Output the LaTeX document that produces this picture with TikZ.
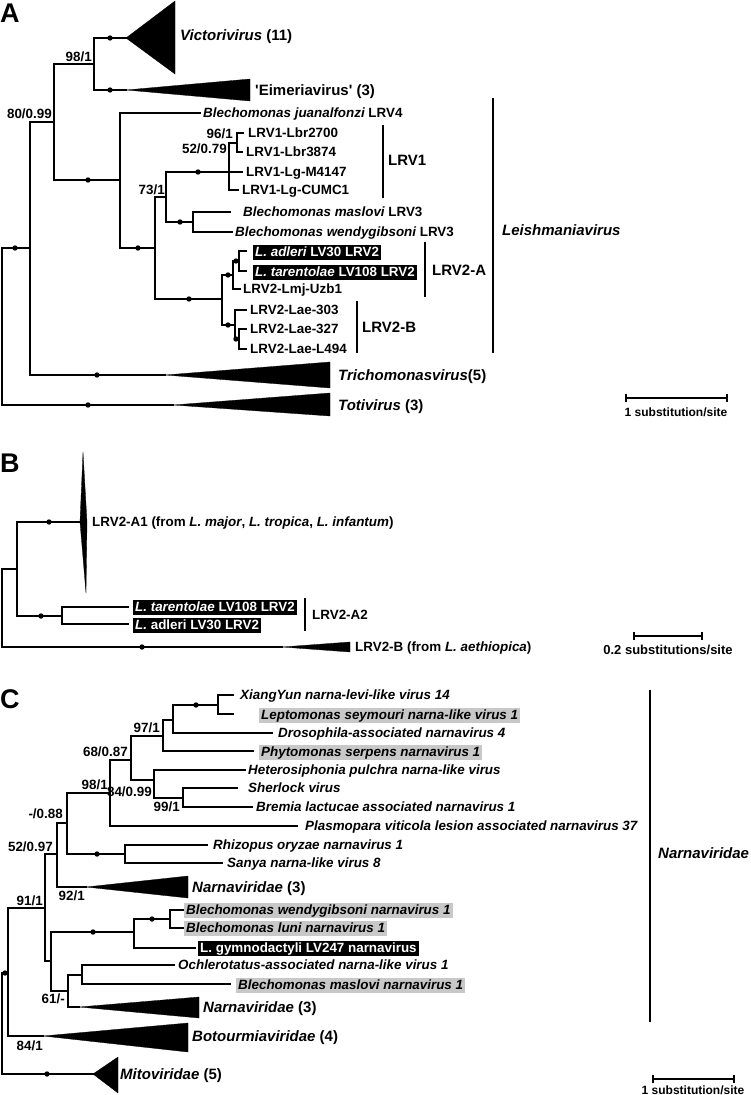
\documentclass[tikz,border=0pt]{standalone}
\usepackage{fontspec}
\setmainfont{Liberation Sans}
\definecolor{hl}{RGB}{200,200,200}
\begin{document}
\begin{tikzpicture}[x=1pt,y=-1pt,
  tbr/.style={line width=1.5pt, line cap=rect},
  ttri/.style={fill=black, draw=black, line width=0.3pt},
  tlab/.style={inner sep=0pt, anchor=west, text height=9.6pt, text depth=0pt, font=\fontsize{13.4}{15}\selectfont\bfseries},
  tilab/.style={tlab, font=\fontsize{13.4}{15}\selectfont\bfseries\itshape},
  tclab/.style={inner sep=0pt, anchor=west, text height=10.7pt, text depth=0pt, font=\fontsize{15}{17}\selectfont\bfseries},
  tbs/.style={tlab, anchor=east},
  tgbox/.style={fill=hl, inner xsep=2pt, inner ysep=1.2pt, anchor=west, text height=9.6pt, text depth=2.6pt, yshift=-1.5pt, font=\fontsize{13.4}{15}\selectfont\bfseries\itshape},
  tkbox/.style={fill=black, text=white, inner xsep=2pt, inner ysep=1.2pt, anchor=west, text height=9.6pt, text depth=2.6pt, yshift=-1.5pt, font=\fontsize{13.4}{15}\selectfont\bfseries},
  tpanel/.style={inner sep=0pt, anchor=base west, font=\fontsize{27}{28}\selectfont\bfseries},
  tsc/.style={inner sep=0pt, anchor=center, text height=8.6pt, text depth=0pt, font=\fontsize{12}{14}\selectfont\bfseries},
  tbrk/.style={line width=1.5pt},
]
\useasboundingbox (0,0) rectangle (750,1095);
\def\ndot(#1,#2){\fill (#1,#2) circle[radius=2.7pt];}

% ================= PANEL A =================
\node[tpanel] (pA) at (0,22) {A};
% branches
\draw[tbr] (94,38) -- (126,38);
\draw[tbr] (94,90) -- (126,90);
\draw[tbr] (94,38) -- (94,90);
\draw[tbr] (54,64) -- (94,64);
\draw[tbr] (54,64) -- (54,180);
\draw[tbr] (30,122) -- (54,122);
\draw[tbr] (54,180) -- (120,180);
\draw[tbr] (120,113) -- (120,248);
\draw[tbr] (120,113) -- (200,113);
\draw[tbr] (120,248) -- (155,248);
\draw[tbr] (155,197) -- (155,299);
\draw[tbr] (155,197) -- (166,197);
\draw[tbr] (166,172) -- (166,222);
\draw[tbr] (166,172) -- (229,172);
\draw[tbr] (229,143) -- (229,190);
\draw[tbr] (229,143) -- (237,143);
\draw[tbr] (237,133) -- (237,152);
\draw[tbr] (237,133) -- (243,133);
\draw[tbr] (237,152) -- (242,152);
\draw[tbr] (229,172) -- (242,172);
\draw[tbr] (229,190) -- (238,190);
\draw[tbr] (166,222) -- (193,222);
\draw[tbr] (193,212) -- (193,232);
\draw[tbr] (193,212) -- (230,212);
\draw[tbr] (193,232) -- (232,232);
\draw[tbr] (155,299) -- (222,299);
\draw[tbr] (222,275) -- (222,325);
\draw[tbr] (222,275) -- (233,275);
\draw[tbr] (233,261) -- (233,289);
\draw[tbr] (233,261) -- (239,261);
\draw[tbr] (239,251) -- (239,271);
\draw[tbr] (239,251) -- (246,251);
\draw[tbr] (239,271) -- (246,271);
\draw[tbr] (233,289) -- (240,289);
\draw[tbr] (222,325) -- (235,325);
\draw[tbr] (235,310) -- (235,339);
\draw[tbr] (235,310) -- (246,310);
\draw[tbr] (235,339) -- (239,339);
\draw[tbr] (239,329) -- (239,349);
\draw[tbr] (239,329) -- (246,329);
\draw[tbr] (239,349) -- (246,349);
\draw[tbr] (30,122) -- (30,375);
\draw[tbr] (30,375) -- (165,375);
\draw[tbr] (2,248) -- (30,248);
\draw[tbr] (2,248) -- (2,405);
\draw[tbr] (2,405) -- (173,405);
% collapsed clades
\fill[ttri] (126,38) -- (175,1) -- (175,74) -- cycle;
\fill[ttri] (126,90) -- (250,79) -- (250,101) -- cycle;
\fill[ttri] (165,375) -- (330,362) -- (330,388) -- cycle;
\fill[ttri] (173,405) -- (330,393) -- (330,416) -- cycle;
% dots
\ndot(110,38) \ndot(110,90) \ndot(88,180) \ndot(138,248) \ndot(198,172)
\ndot(180,222) \ndot(189,299) \ndot(228,275) \ndot(236,261) \ndot(228,325)
\ndot(236,339) \ndot(97,375) \ndot(15,248) \ndot(88,405)
% support values
\node[tbs] (a981) at (92,57) {98/1};
\node[tbs] (a8099) at (52,114) {80/0.99};
\node[tbs] (a731) at (165,190) {73/1};
\node[tbs] (a961) at (233,134) {96/1};
\node[tbs] (a5279) at (227,149) {52/0.79};
% leaf labels
\node[tclab] (vic) at (180,35) {\itshape Victorivirus\upshape\ (11)};
\node[tclab] (eim) at (255,90) {\textquotesingle Eimeriavirus\textquotesingle\ (3)};
\node[tlab] (juan) at (203,113) {\itshape Blechomonas juanalfonzi\upshape\ LRV4};
\node[tlab] (l1a) at (248,133) {LRV1-Lbr2700};
\node[tlab] (l1b) at (246,152) {LRV1-Lbr3874};
\node[tlab] (l1c) at (246,172) {LRV1-Lg-M4147};
\node[tlab] (l1d) at (242,190) {LRV1-Lg-CUMC1};
\node[tlab] (bmas) at (243,212) {\itshape Blechomonas maslovi\upshape\ LRV3};
\node[tlab] (bwen) at (235,232) {\itshape Blechomonas wendygibsoni\upshape\ LRV3};
\node[tkbox] (adl) at (253,251) {\itshape L. adleri\upshape\ LV30 LRV2};
\node[tkbox] (tar) at (253,271) {\itshape L. tarentolae\upshape\ LV108 LRV2};
\node[tlab] (lmj) at (243,289) {LRV2-Lmj-Uzb1};
\node[tlab] (lae1) at (250,310) {LRV2-Lae-303};
\node[tlab] (lae2) at (250,329) {LRV2-Lae-327};
\node[tlab] (lae3) at (250,349) {LRV2-Lae-L494};
\node[tclab] (tri) at (338,375) {\itshape Trichomonasvirus\upshape(5)};
\node[tclab] (tot) at (338,405) {\itshape Totivirus\upshape\ (3)};
% brackets
\draw[tbrk] (383,125) -- (383,198);
\node[tclab] (gl1) at (388,160) {LRV1};
\draw[tbrk] (425,242) -- (425,297);
\node[tclab] (gl2a) at (432,270) {LRV2-A};
\draw[tbrk] (357,301) -- (357,353);
\node[tclab] (gl2b) at (362,327) {LRV2-B};
\draw[tbrk] (493,98) -- (493,353);
\node[tclab] (gleish) at (502,230) {\itshape Leishmaniavirus};
% scale
\draw[line width=1.5pt] (626,398) -- (727,398);
\draw[line width=1.2pt] (626,394) -- (626,402) (727,394) -- (727,402);
\node[tsc] (scA) at (676,412) {1 substitution/site};

% ================= PANEL B =================
\node[tpanel] (pB) at (0,472) {B};
\draw[tbr] (2,569) -- (17,569);
\draw[tbr] (2,569) -- (2,647);
\draw[tbr] (17,522) -- (17,616);
\draw[tbr] (17,522) -- (80,522);
\draw[tbr] (17,616) -- (62,616);
\draw[tbr] (62,607) -- (62,624);
\draw[tbr] (62,607) -- (128,607);
\draw[tbr] (62,624) -- (128,624);
\draw[tbr] (2,647) -- (282,647);
\fill[ttri] (80,522) -- (83,452) -- (87,522) -- (86,593) -- cycle;
\fill[ttri] (282,647) -- (350,642) -- (350,652) -- cycle;
\ndot(49,522) \ndot(41,616) \ndot(142,647)
\node[tlab] (a1) at (92,522) {LRV2-A1 (from \itshape L. major\upshape, \itshape L. tropica\upshape, \itshape L. infantum\upshape)};
\node[tkbox] (btar) at (133,606) {\itshape L. tarentolae\upshape\ LV108 LRV2};
\node[tkbox] (badl) at (133,624) {\itshape L.\upshape\ adleri LV30 LRV2};
\draw[tbrk] (305,598) -- (305,631);
\node[tlab] (ga2) at (312,615) {LRV2-A2};
\node[tlab] (bb) at (355,647) {LRV2-B (from \itshape L. aethiopica\upshape)};
\draw[line width=1.5pt] (634,636) -- (702,636);
\draw[line width=1.2pt] (634,632) -- (634,640) (702,632) -- (702,640);
\node[tsc, font=\fontsize{13}{15}\selectfont\bfseries, text height=9.3pt] (scB) at (668,650) {0.2 substitutions/site};

% ================= PANEL C =================
\node[tpanel] (pC) at (0,708) {C};
\draw[tbr] (218,695) -- (218,714);
\draw[tbr] (218,695) -- (233,695);
\draw[tbr] (218,714) -- (233,714);
\draw[tbr] (173,705) -- (218,705);
\draw[tbr] (173,705) -- (173,733);
\draw[tbr] (173,733) -- (272,733);
\draw[tbr] (163,720) -- (173,720);
\draw[tbr] (163,720) -- (163,751);
\draw[tbr] (163,751) -- (253,751);
\draw[tbr] (131,736) -- (163,736);
\draw[tbr] (131,736) -- (131,780);
\draw[tbr] (131,780) -- (154,780);
\draw[tbr] (154,770) -- (154,798);
\draw[tbr] (154,770) -- (245,770);
\draw[tbr] (154,798) -- (183,798);
\draw[tbr] (183,788) -- (183,807);
\draw[tbr] (183,788) -- (237,788);
\draw[tbr] (183,807) -- (252,807);
\draw[tbr] (110,760) -- (131,760);
\draw[tbr] (110,760) -- (110,826);
\draw[tbr] (110,826) -- (297,826);
\draw[tbr] (67,793) -- (110,793);
\draw[tbr] (67,793) -- (67,854);
\draw[tbr] (67,854) -- (125,854);
\draw[tbr] (125,845) -- (125,863);
\draw[tbr] (125,845) -- (207,845);
\draw[tbr] (125,863) -- (222,863);
\draw[tbr] (57,823) -- (67,823);
\draw[tbr] (57,823) -- (57,887);
\draw[tbr] (57,887) -- (86,887);
\draw[tbr] (45,854) -- (57,854);
\draw[tbr] (45,854) -- (45,961);
\draw[tbr] (45,961) -- (51,961);
\draw[tbr] (51,932) -- (51,991);
\draw[tbr] (51,932) -- (134,932);
\draw[tbr] (134,919) -- (134,948);
\draw[tbr] (134,919) -- (170,919);
\draw[tbr] (170,910) -- (170,928);
\draw[tbr] (170,910) -- (183,910);
\draw[tbr] (170,928) -- (183,928);
\draw[tbr] (134,948) -- (195,948);
\draw[tbr] (51,991) -- (68,991);
\draw[tbr] (68,975) -- (68,1007);
\draw[tbr] (68,975) -- (82,975);
\draw[tbr] (82,965) -- (82,984);
\draw[tbr] (82,965) -- (174,965);
\draw[tbr] (82,984) -- (230,984);
\draw[tbr] (68,1007) -- (79,1007);
\draw[tbr] (8,908) -- (45,908);
\draw[tbr] (8,908) -- (8,1036);
\draw[tbr] (8,1036) -- (43,1036);
\draw[tbr] (2,973) -- (8,973);
\draw[tbr] (2,973) -- (2,1074);
\draw[tbr] (2,1074) -- (93,1074);
\fill[ttri] (86,887) -- (188,876) -- (188,898) -- cycle;
\fill[ttri] (79,1007) -- (199,997) -- (199,1018) -- cycle;
\fill[ttri] (43,1036) -- (188,1023) -- (188,1052) -- cycle;
\fill[ttri] (93,1074) -- (118,1057) -- (118,1093) -- cycle;
\ndot(196,705) \ndot(97,854) \ndot(93,932) \ndot(152,919) \ndot(5,973) \ndot(47,1074)
% support values
\node[tbs] (c971) at (160,728) {97/1};
\node[tbs] (c6887) at (128,752) {68/0.87};
\node[tbs] (c981) at (108,785) {98/1};
\node[tbs] (c8499) at (152,792) {84/0.99};
\node[tbs] (c991) at (180,807) {99/1};
\node[tbs] (c088) at (63,814) {-/0.88};
\node[tbs] (c5297) at (53,847) {52/0.97};
\node[tbs] (c921) at (85,896) {92/1};
\node[tbs] (c911) at (43,901) {91/1};
\node[tbs] (c61) at (65,999) {61/-};
\node[tbs] (c841) at (43,1046) {84/1};
% leaf labels
\node[tilab] (xy) at (240,695) {XiangYun narna-levi-like virus 14};
\node[tgbox] (lep) at (259,714) {Leptomonas seymouri narna-like virus 1};
\node[tilab] (dro) at (278,733) {Drosophila-associated narnavirus 4};
\node[tgbox] (phy) at (259,751) {Phytomonas serpens narnavirus 1};
\node[tilab] (het) at (248,770) {Heterosiphonia pulchra narna-like virus};
\node[tilab] (she) at (248,788) {Sherlock virus};
\node[tilab] (bre) at (256,807) {Bremia lactucae associated narnavirus 1};
\node[tilab] (pla) at (305,826) {Plasmopara viticola lesion associated narnavirus 37};
\node[tilab] (rhi) at (213,845) {Rhizopus oryzae narnavirus 1};
\node[tilab] (san) at (227,863) {Sanya narna-like virus 8};
\node[tclab] (nar1) at (192,887) {\itshape Narnaviridae\upshape\ (3)};
\node[tgbox] (bwn) at (184,909) {Blechomonas wendygibsoni narnavirus 1};
\node[tgbox] (blu) at (184,927) {Blechomonas luni narnavirus 1};
\node[tkbox] (gym) at (198,947) {L. gymnodactyli LV247 narnavirus};
\node[tilab] (och) at (178,965) {Ochlerotatus-associated narna-like virus 1};
\node[tgbox] (bms) at (236,984) {Blechomonas maslovi narnavirus 1};
\node[tclab] (nar2) at (203,1007) {\itshape Narnaviridae\upshape\ (3)};
\node[tclab] (bot) at (192,1036) {\itshape Botourmiaviridae\upshape\ (4)};
\node[tclab] (mit) at (120,1074) {\itshape Mitoviridae\upshape\ (5)};
% bracket
\draw[tbrk] (650,690) -- (650,1022);
\node[tclab] (gnar) at (658,853) {\itshape Narnaviridae};
% scale
\draw[line width=1.5pt] (653,1079) -- (734,1079);
\draw[line width=1.2pt] (653,1075) -- (653,1083) (734,1075) -- (734,1083);
\node[tsc] (scC) at (693,1090) {1 substitution/site};
\end{tikzpicture}
\end{document}
